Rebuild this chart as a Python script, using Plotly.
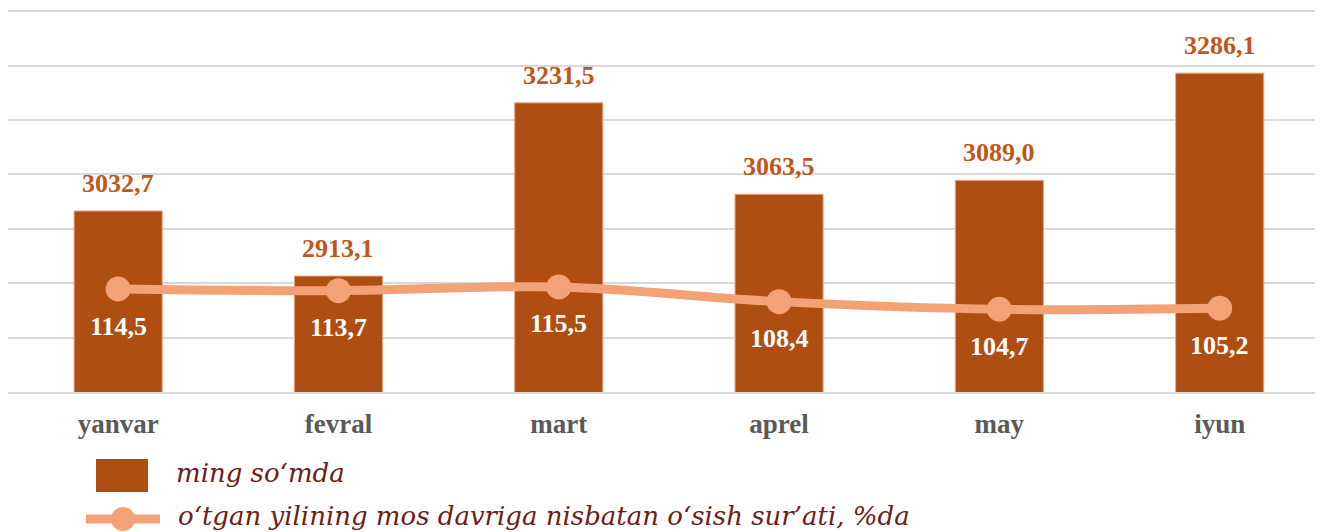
import plotly.graph_objects as go

months = ["yanvar", "fevral", "mart", "aprel", "may", "iyun"]
wages = [3032.7, 2913.1, 3231.5, 3063.5, 3089.0, 3286.1]
growth = [114.5, 113.7, 115.5, 108.4, 104.7, 105.2]
bar_name = "ming so‘mda"
line_name = "o‘tgan yilining mos davriga nisbatan o‘sish sur’ati, %da"

BAR_C = "#AE4E13"
LINE_C = "#F2A275"
LABEL_C = "#C0571A"
LEG_TXT = "#6E2016"
GRID_C = "#D9D9D9"

W, H = 1315, 524
L, R, T, B = 0, 0, 1, 140
PW, PH = W - L - R, H - T - B


def px(x):
    return (x - L) / PW


def py(y):
    return (H - B - y) / PH


fig = go.Figure()
fig.add_trace(go.Bar(
    x=months, y=wages, name=bar_name, width=0.4,
    marker=dict(color=BAR_C, line=dict(color="#E8A57E", width=1)),
    showlegend=False, hoverinfo="skip",
))
fig.add_trace(go.Scatter(
    x=months, y=growth, name=line_name, yaxis="y2", mode="lines+markers",
    line=dict(color=LINE_C, width=9, shape="spline", smoothing=1),
    marker=dict(color=LINE_C, size=25),
    showlegend=False, hoverinfo="skip",
))

annotations = []
for m, v in zip(months, wages):
    annotations.append(dict(
        x=m, y=v, xref="x", yref="y", text=f"{v:.1f}".replace(".", ","),
        showarrow=False, yanchor="bottom", yshift=11,
        font=dict(family="Liberation Serif", size=26, color=LABEL_C, weight="bold"),
    ))
for m, v in zip(months, growth):
    annotations.append(dict(
        x=m, y=v, xref="x", yref="y2", text=f"{v:.1f}".replace(".", ","),
        showarrow=False, yanchor="middle", yshift=-37,
        font=dict(family="Liberation Serif", size=26, color="white", weight="bold"),
    ))

# legend (drawn manually)
leg_font = dict(family="DejaVu Serif", size=26, color=LEG_TXT, style="italic")
annotations.append(dict(
    x=px(166), y=py(465), xref="paper", yref="paper", text=bar_name,
    showarrow=False, xanchor="left", yanchor="middle", font=leg_font,
))
annotations.append(dict(
    x=px(168), y=py(508), xref="paper", yref="paper", text=line_name,
    showarrow=False, xanchor="left", yanchor="middle", font=leg_font,
))
shapes = [
    dict(type="rect", xref="paper", yref="paper",
         x0=px(88), x1=px(140), y0=py(484), y1=py(451),
         fillcolor=BAR_C, line=dict(width=0)),
    dict(type="line", xref="paper", yref="paper",
         x0=px(78), x1=px(152), y0=py(511), y1=py(511),
         line=dict(color=LINE_C, width=9)),
    dict(type="circle", xref="paper", yref="paper",
         x0=px(103), x1=px(127), y0=py(523), y1=py(499),
         fillcolor=LINE_C, line=dict(width=0)),
]

fig.update_layout(
    width=W, height=H,
    margin=dict(l=L, r=R, t=T, b=B, pad=0),
    paper_bgcolor="white", plot_bgcolor="white",
    showlegend=False,
    annotations=annotations, shapes=shapes,
    xaxis=dict(
        type="category", range=[-0.5, 5.469], showgrid=False, zeroline=False,
        showline=True, linecolor=GRID_C, linewidth=2,
        ticks="outside", ticklen=7, tickcolor="rgba(0,0,0,0)",
        tickfont=dict(family="Liberation Serif", size=27, color="#595959", weight="bold"),
    ),
    yaxis=dict(
        range=[2700, 3404], dtick=100, tick0=2700, showgrid=True,
        gridcolor=GRID_C, gridwidth=2, zeroline=False, showticklabels=False,
    ),
    yaxis2=dict(
        range=[64.7, 249.9], overlaying="y", side="right", showgrid=False,
        zeroline=False, showticklabels=False,
    ),
)

fig.write_html("out.html")
